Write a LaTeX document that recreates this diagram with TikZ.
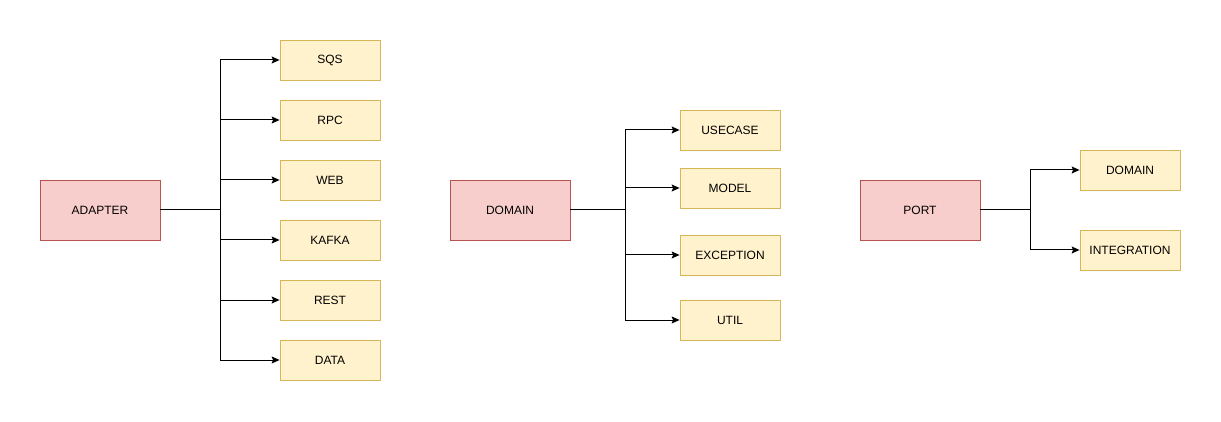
\documentclass[tikz,border=0pt]{standalone}
\usepackage{fontspec}
\setmainfont{Liberation Sans}
\usetikzlibrary{arrows.meta}
\definecolor{pinkfill}{HTML}{F8CECC}
\definecolor{pinkline}{HTML}{B85450}
\definecolor{yelfill}{HTML}{FFF2CC}
\definecolor{yelline}{HTML}{D6B656}
\tikzset{
  parentbox/.style={draw=pinkline, fill=pinkfill, minimum width=120pt, minimum height=60pt, inner sep=0pt, font=\fontsize{12}{14}\selectfont, line width=0.8pt},
  childbox/.style={draw=yelline, fill=yelfill, minimum width=100pt, minimum height=40pt, inner sep=0pt, font=\fontsize{12}{14}\selectfont, line width=0.8pt},
  arr/.style={draw=black, line width=1pt, -{Stealth[length=8pt,width=7pt,inset=1.5pt]}},
}
\begin{document}
\begin{tikzpicture}[x=1pt,y=-1pt]
\useasboundingbox (0,0) rectangle (1221,422);
\fill[white] (0,0) rectangle (1221,422);
% parents
\node[parentbox] (adapter) at (100,210) {ADAPTER};
\node[parentbox] (domain) at (510,210) {DOMAIN};
\node[parentbox] (port) at (920,210) {PORT};
% adapter children
\node[childbox] (sqs) at (330,60) {SQS};
\node[childbox] (rpc) at (330,120) {RPC};
\node[childbox] (web) at (330,180) {WEB};
\node[childbox] (kafka) at (330,240) {KAFKA};
\node[childbox] (rest) at (330,300) {REST};
\node[childbox] (data) at (330,360) {DATA};
% domain children
\node[childbox] (usecase) at (730,130) {USECASE};
\node[childbox] (model) at (730,188) {MODEL};
\node[childbox] (exception) at (730,255) {EXCEPTION};
\node[childbox] (util) at (730,320) {UTIL};
% port children
\node[childbox] (pdomain) at (1130,170) {DOMAIN};
\node[childbox] (integration) at (1130,250) {INTEGRATION};
% branch points
\coordinate (ab) at (220,210);
\coordinate (db) at (625,210);
\coordinate (pb) at (1030,210);
\draw[line width=1pt] (adapter.east) -- (ab);
\draw[line width=1pt] (domain.east) -- (db);
\draw[line width=1pt] (port.east) -- (pb);
\foreach \c in {sqs,rpc,web,kafka,rest,data} \draw[arr] (ab) |- (\c.west);
\foreach \c in {usecase,model,exception,util} \draw[arr] (db) |- (\c.west);
\foreach \c in {pdomain,integration} \draw[arr] (pb) |- (\c.west);
\end{tikzpicture}
\end{document}
